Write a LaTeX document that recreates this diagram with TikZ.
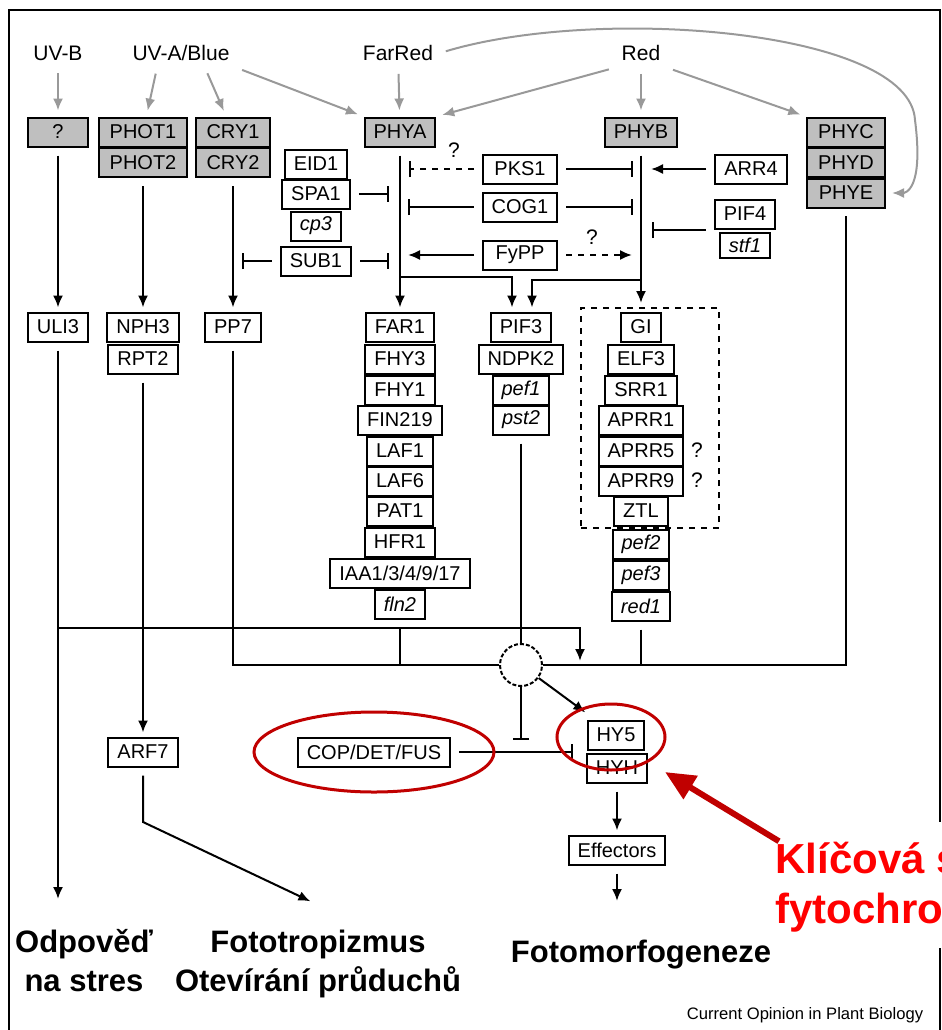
\documentclass[tikz,border=0pt]{standalone}
\usepackage{fontspec}
\setmainfont{Liberation Sans}
\usetikzlibrary{arrows.meta}
\definecolor{ringred}{RGB}{192,0,0}
\definecolor{keyred}{RGB}{255,0,0}

\begin{document}
\begin{tikzpicture}[x=0.5pt,y=-0.5pt,
    box/.style={draw,line width=1pt,minimum height=14.5pt,inner xsep=4.5pt,inner ysep=0pt,font=\fontsize{10}{12}\selectfont},
    gbox/.style={box,fill=black!25},
    lbl/.style={font=\fontsize{10.5}{12}\selectfont},
    light/.style={draw=black!40,line width=1pt,-{Latex[length=6pt,width=5pt]},shorten <=3pt,shorten >=3pt},
    act/.style={line width=1pt,-{Latex[length=6pt,width=5pt]},shorten <=4pt,shorten >=2pt},
    inh/.style={line width=1pt,-{Bar[width=8pt]},shorten <=4pt},
    wire/.style={line width=1pt,shorten <=4pt},
    outcome/.style={font=\fontsize{15.5}{19.5}\bfseries\selectfont,align=center,inner sep=0pt},
    ring/.style={draw=ringred,line width=1.5pt},
    redarrow/.style={draw=ringred,line width=3pt,-{Triangle[length=15pt,width=13pt]}}]
  \useasboundingbox (0,0) rectangle (942,1030);
  \draw[line width=1pt] (9,10) rectangle (940,1045);

  \draw (58,53) node[lbl](uvb) {UV-B};
  \draw (181,53) node[lbl](uva) {UV-A/Blue};
  \draw (398,53) node[lbl](farred) {FarRed};
  \draw (641,53) node[lbl](red) {Red};

  \draw (58,132) node[gbox,minimum width=30pt](unk) {?};
  \draw (143,132) node[gbox,minimum width=44pt](phot1) {PHOT1};
  \draw (143,162.5) node[gbox,minimum width=44pt](phot2) {PHOT2};
  \draw (233,132) node[gbox,minimum width=37pt](cry1) {CRY1};
  \draw (233,162.5) node[gbox,minimum width=37pt](cry2) {CRY2};
  \draw (400,132) node[gbox](phya) {PHYA};
  \draw (641,132) node[gbox](phyb) {PHYB};
  \draw (846,132) node[gbox,minimum width=39pt](phyc) {PHYC};
  \draw (846,162.5) node[gbox,minimum width=39pt](phyd) {PHYD};
  \draw (846,193) node[gbox,minimum width=39pt](phye) {PHYE};

  \draw[light] (uvb) -- (unk);
  \draw[light] ([xshift=-12pt]uva.south) -- (phot1);
  \draw[light] ([xshift=12pt]uva.south) -- (cry1);
  \draw[light] (uva.south east) -- (phya.north west);
  \draw[light] (farred) -- (phya);
  \draw[light] (red.south west) -- (phya.north east);
  \draw[light] (red) -- (phyb);
  \draw[light] (red.south east) -- (phyc.north west);
  \draw[light] (farred.east) .. controls (600,5) and (910,30) .. (915,120) .. controls (924,190) and (905,193) .. (phye.east);

  \draw (316,164) node[box](eid1) {EID1};
  \draw (316,194) node[box](spa1) {SPA1};
  \draw (316,226) node[box](cp3) {\textit{cp3}};
  \draw (316,261) node[box](sub1) {SUB1};
  \draw (520,169) node[box,minimum width=37pt](pks1) {PKS1};
  \draw (520,207) node[box,minimum width=37pt](cog1) {COG1};
  \draw (520,255) node[box,minimum width=37pt](fypp) {FyPP};
  \draw (751,169) node[box](arr4) {ARR4};
  \draw (745,214) node[box](pif4) {PIF4};
  \draw (745,245) node[box,minimum height=12.5pt](stf1) {\textit{stf1}};

  \draw (454,150) node[lbl](qpks) {?};
  \draw (592,237) node[lbl](qfy) {?};
  \draw (697,450) node[lbl](qr5) {?};
  \draw (697,480) node[lbl](qr9) {?};

  \coordinate (pksa) at (409,169);
  \coordinate (pksb) at (633,169);
  \coordinate (coga) at (408,207);
  \coordinate (cogb) at (633,207);
  \coordinate (fya) at (404,255);
  \coordinate (fyb) at (636,255);
  \coordinate (arrb) at (647,169);
  \coordinate (pifb) at (652,230);
  \coordinate (spaa) at (389,194);
  \coordinate (suba) at (389,261);
  \coordinate (subc) at (242,261);

  \draw[inh,dashed] (pks1) -- (pksa);
  \draw[inh] (pks1) -- (pksb);
  \draw[inh] (cog1) -- (coga);
  \draw[inh] (cog1) -- (cogb);
  \draw[act] (fypp) -- (fya);
  \draw[act,dashed] (fypp) -- (fyb);
  \draw[act] (arr4) -- (arrb);
  \draw[inh] (pif4.west |- pifb) -- (pifb);
  \draw[inh] (spa1) -- (spaa);
  \draw[inh] (sub1) -- (suba);
  \draw[inh] (sub1) -- (subc);

  \draw (58,327) node[box](uli3) {ULI3};
  \draw (143,327) node[box](nph3) {NPH3};
  \draw (143,359) node[box](rpt2) {RPT2};
  \draw (233,327) node[box](pp7) {PP7};

  \draw (400,327) node[box](far1) {FAR1};
  \draw (400,359) node[box](fhy3) {FHY3};
  \draw (400,390) node[box](fhy1) {FHY1};
  \draw (400,420) node[box](fin219) {FIN219};
  \draw (400,451) node[box](laf1) {LAF1};
  \draw (400,481) node[box](laf6) {LAF6};
  \draw (400,511) node[box](pat1) {PAT1};
  \draw (400,542) node[box](hfr1) {HFR1};
  \draw (400,573) node[box](iaa) {IAA1/3/4/9/17};
  \draw (400,604) node[box](fln2) {\textit{fln2}};

  \draw (521,327) node[box](pif3) {PIF3};
  \draw (521,359) node[box](ndpk2) {NDPK2};
  \draw (521,390) node[box](pef1) {\textit{pef1}};
  \draw (521,420) node[box](pst2) {\textit{pst2}};

  \draw (650,418) node[draw,dashed,line width=1pt,minimum width=69pt,minimum height=110pt](clock) {};
  \draw (641,327) node[box](gi) {GI};
  \draw (641,359) node[box](elf3) {ELF3};
  \draw (641,390) node[box](srr1) {SRR1};
  \draw (641,420) node[box](aprr1) {APRR1};
  \draw (641,451) node[box](aprr5) {APRR5};
  \draw (641,481) node[box](aprr9) {APRR9};
  \draw (641,511) node[box](ztl) {ZTL};
  \draw (641,544) node[box](pef2) {\textit{pef2}};
  \draw (641,575) node[box](pef3) {\textit{pef3}};
  \draw (641,606) node[box](red1) {\textit{red1}};

  \coordinate (pa) at (400,277);
  \coordinate (pb) at (641,280);
  \draw[act] (unk) -- (uli3);
  \draw[act] (phot2) -- (nph3);
  \draw[act] (cry2) -- (pp7);
  \draw[act] (phya) -- (far1);
  \draw[act] (phyb) -- (phyb |- clock.north);
  \draw[act,shorten <=0pt] (pa) -| ([xshift=-4.5pt]pif3.north);
  \draw[act,shorten <=0pt] (pb) -| ([xshift=5.5pt]pif3.north);

  \draw (521,665) node[circle,draw,line width=1pt,dash pattern=on 2pt off 1pt,minimum size=21pt,inner sep=0pt](hub) {};

  \draw (143,752) node[box](arf7) {ARF7};
  \draw (374,752) node[box](cop) {COP/DET/FUS};
  \draw (616,735) node[box](hy5) {HY5};
  \draw (617,768) node[box](hyh) {HYH};
  \draw (617,850) node[box](eff) {Effectors};

  \draw (84,961) node[outcome](stres) {Odpověď\\na stres};
  \draw (318,964) node[outcome](tropism) {Fototropizmus\\Otevírání průduchů};
  \draw (641,962) node[outcome,anchor=base](morph) {Fotomorfogeneze};
  \draw (805,1019) node[anchor=base,font=\fontsize{8.3}{10}\selectfont](source) {Current Opinion in Plant Biology};

  \coordinate (stresin) at (58,903);
  \coordinate (j1) at (58,628);
  \coordinate (j2) at (580,665);
  \coordinate (hubbar) at (521,740);
  \coordinate (copbar) at (573,752);
  \coordinate (bend) at (143,822);
  \coordinate (tropin) at (314,903);
  \coordinate (morphin) at (617,905);

  \draw[act] (uli3) -- (stresin);
  \draw[act,shorten <=0pt] (j1) -| (j2);
  \draw[wire] (pp7) |- (hub);
  \draw[wire,shorten <=0pt,shorten >=3.5pt] (hub) -| (phye);
  \draw[wire] (fln2) -- (fln2 |- hub);
  \draw[wire] (red1) -- (red1 |- hub);
  \draw[wire] (pst2) -- (hub);
  \draw[inh,shorten <=0pt] (hub) -- (hubbar);
  \draw[act,shorten <=0pt,shorten >=6pt] (hub) -- (hy5);
  \draw[inh] (cop) -- (copbar);
  \draw[act] (hyh) -- (eff);
  \draw[act] (eff) -- (morphin);
  \draw[act] (rpt2) -- (arf7);
  \draw[act] (arf7) -- (bend) -- (tropin);

  \draw[ring] (374,752) ellipse [x radius=60pt,y radius=20pt];
  \draw[ring] (611,737) ellipse [x radius=27pt,y radius=16.5pt];
  \fill[white] (770,822) rectangle (945,948);
  \draw (775,873) node[anchor=base west,inner sep=0pt,text=keyred,font=\fontsize{21}{25}\bfseries\selectfont](klic) {Klíčová s};
  \draw (775,923) node[anchor=base west,inner sep=0pt,text=keyred,font=\fontsize{21}{25}\bfseries\selectfont](fyto) {fytochro};
  \coordinate (keytip) at (665,772);
  \draw[redarrow] ([xshift=2pt]klic.north west) -- (keytip);
\end{tikzpicture}
\end{document}
